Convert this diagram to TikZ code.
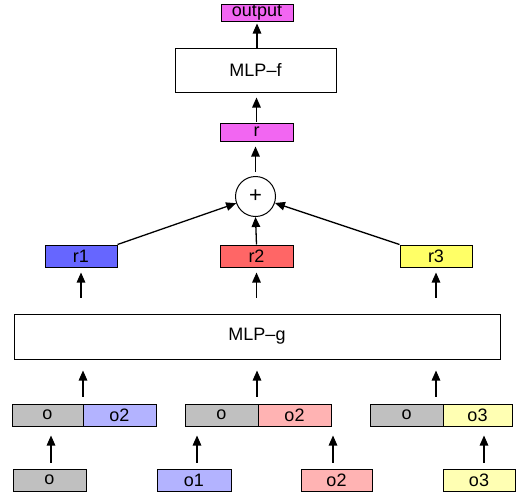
\documentclass[tikz,border=0pt]{standalone}
\usepackage{fontspec}
\setmainfont{Liberation Sans}
\usetikzlibrary{arrows.meta}
\definecolor{magbox}{HTML}{F266F2}
\definecolor{bluebox}{HTML}{6666FF}
\definecolor{redbox}{HTML}{FF6666}
\definecolor{yelbox}{HTML}{FFFF66}
\definecolor{lblue}{HTML}{B3B3FF}
\definecolor{lred}{HTML}{FFB3B3}
\definecolor{lyel}{HTML}{FFFFB3}
\definecolor{grbox}{HTML}{C0C0C0}
\begin{document}
\begin{tikzpicture}[x=1pt,y=-1pt,
  box/.style={draw=black,line width=1pt,inner sep=0pt,minimum height=22pt,font=\fontsize{18}{18}\selectfont},
  arr/.style={line width=1.3pt,-{Triangle[length=10pt,width=8.5pt]}}]
\useasboundingbox (0,0) rectangle (519,498);
% top
\node[box,fill=magbox,minimum width=72pt,minimum height=17pt] (out) at (257,12.5) {output};
\node[box,fill=white,minimum width=161pt,minimum height=44pt] (mlpf) at (255.5,70) {MLP\textendash f};
\node[box,fill=magbox,minimum width=73pt,minimum height=18pt] (r) at (256.5,132) {r};
\node[draw,circle,line width=1pt,minimum size=40pt,inner sep=0pt,font=\fontsize{22}{22}\selectfont] (plus) at (255.5,196.5) {+};
% r row
\node[box,fill=bluebox,minimum width=72pt] (r1) at (81,256) {r1};
\node[box,fill=redbox,minimum width=73pt] (r2) at (256.5,256) {r2};
\node[box,fill=yelbox,minimum width=72pt] (r3) at (436,256) {r3};
% MLP-g
\node[box,fill=white,minimum width=486pt,minimum height=45pt] (mlpg) at (257,336.5) {MLP\textendash g};
% concat row
\node[box,fill=grbox,minimum width=71pt] (c1a) at (47.5,415) {o};
\node[box,fill=lblue,minimum width=73pt] (c1b) at (119.5,415) {o2};
\node[box,fill=grbox,minimum width=73pt] (c2a) at (221.5,415) {o};
\node[box,fill=lred,minimum width=73pt] (c2b) at (294.5,415) {o2};
\node[box,fill=grbox,minimum width=73pt] (c3a) at (406.5,415) {o};
\node[box,fill=lyel,minimum width=69pt] (c3b) at (477.5,415) {o3};
% bottom row
\node[box,fill=grbox,minimum width=73pt] (b0) at (49.5,480) {o};
\node[box,fill=lblue,minimum width=74pt] (b1) at (194,480) {o1};
\node[box,fill=lred,minimum width=71pt] (b2) at (336.5,480) {o2};
\node[box,fill=lyel,minimum width=72pt] (b3) at (479,480) {o3};
% coordinates for arrow x positions
\coordinate (x1) at (83,0);
\coordinate (x2) at (257,0);
\coordinate (x3) at (436,0);
% arrows top
\draw[arr,shorten >=2pt] (mlpf.north -| out.south) -- (out.south);
\draw[arr,shorten >=5pt,shorten <=1pt] (r.north) -- (r.north |- mlpf.south);
\draw[arr,shorten >=5pt,shorten <=4pt] (plus.north) -- (plus.north |- r.south);
\draw[arr] (r1.north east) -- (plus);
\draw[arr] (r2.north) -- (plus.south);
\draw[arr] (r3.north west) -- (plus);
% arrows MLP-g -> r row
\draw[arr,shorten <=16pt,shorten >=5pt] (mlpg.north -| r1.south) -- (r1.south);
\draw[arr,shorten <=16pt,shorten >=5pt] (mlpg.north -| r2.south) -- (r2.south);
\draw[arr,shorten <=16pt,shorten >=5pt] (mlpg.north -| r3.south) -- (r3.south);
% arrows concat -> MLP-g
\draw[arr,shorten <=7pt,shorten >=11pt] (c1a.north -| x1) -- (mlpg.south -| x1);
\draw[arr,shorten <=7pt,shorten >=11pt] (c2a.north -| x2) -- (mlpg.south -| x2);
\draw[arr,shorten <=7pt,shorten >=11pt] (c3a.north -| x3) -- (mlpg.south -| x3);
% arrows bottom -> concat
\draw[arr,shorten <=6pt,shorten >=9pt] ([xshift=1.5pt]b0.north) -- ([xshift=1.5pt]b0.north |- c1a.south);
\draw[arr,shorten <=6pt,shorten >=9pt] ([xshift=3pt]b1.north) -- ([xshift=3pt]b1.north |- c2a.south);
\draw[arr,shorten <=6pt,shorten >=9pt] ([xshift=-3.5pt]b2.north) -- ([xshift=-3.5pt]b2.north |- c2b.south);
\draw[arr,shorten <=6pt,shorten >=9pt] ([xshift=5pt]b3.north) -- ([xshift=5pt]b3.north |- c3b.south);
\end{tikzpicture}
\end{document}
